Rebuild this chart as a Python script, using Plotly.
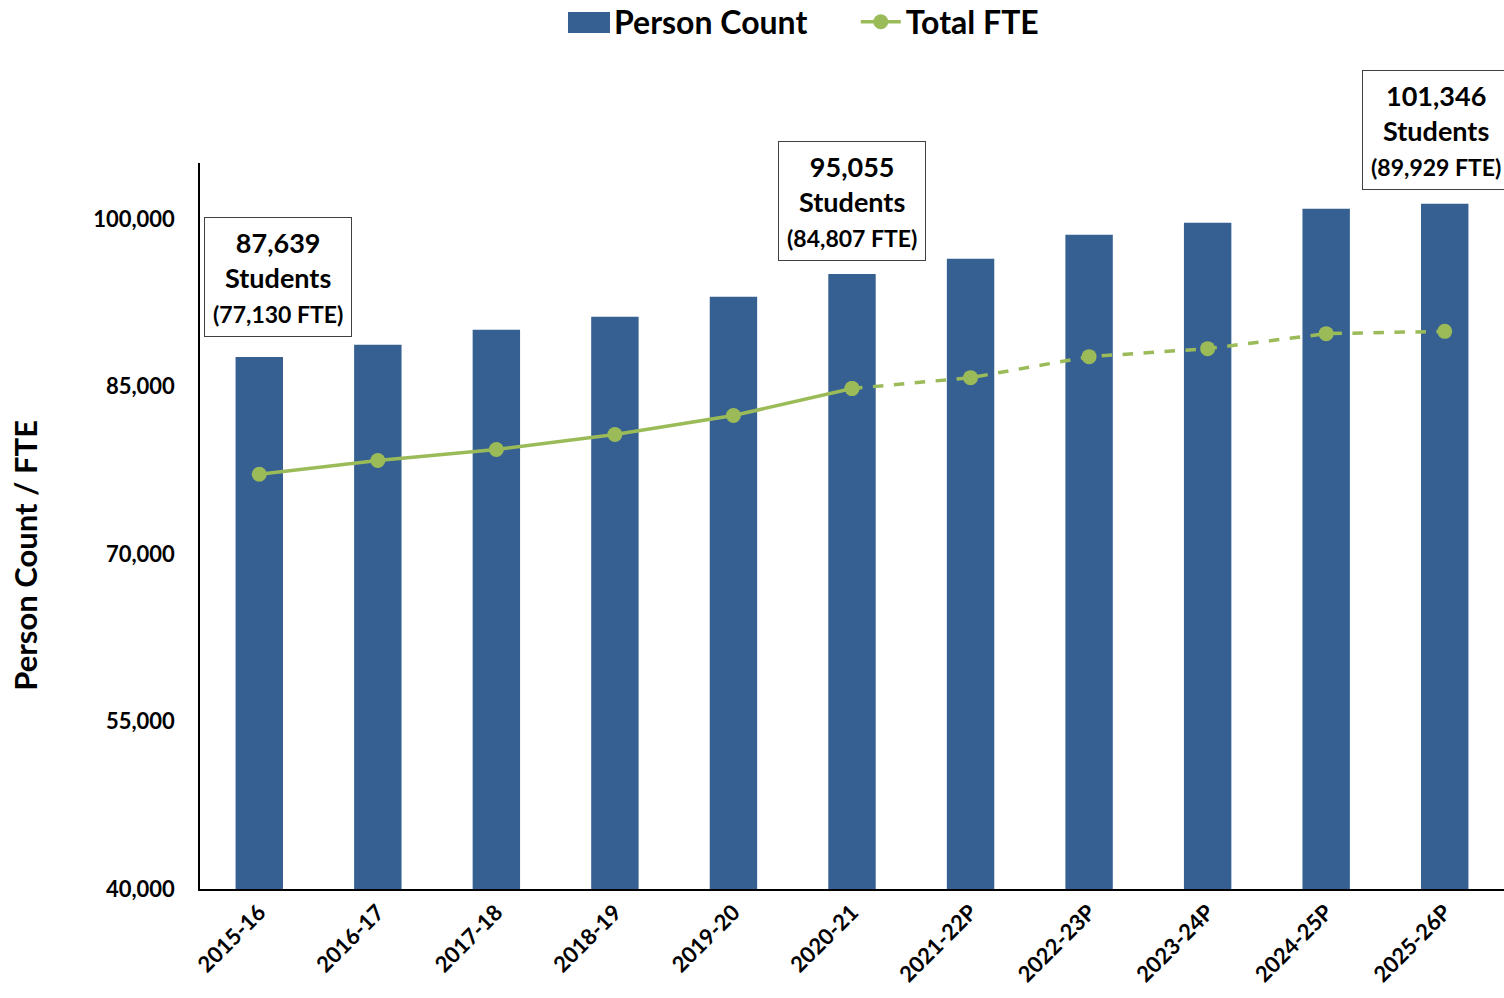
import plotly.graph_objects as go

years = ["2015-16", "2016-17", "2017-18", "2018-19", "2019-20", "2020-21",
         "2021-22P", "2022-23P", "2023-24P", "2024-25P", "2025-26P"]
person_count = [87639, 88730, 90070, 91240, 93030, 95055, 96420, 98570, 99640, 100900, 101346]
total_fte = [77130, 78360, 79350, 80690, 82390, 84807, 85780, 87660, 88380, 89720, 89929]
n_actual = 6  # 2015-16 .. 2020-21 actual, rest projected

callouts = [
    # (category index, count, fte)
    (0, "87,639", "(77,130 FTE)"),
    (5, "95,055", "(84,807 FTE)"),
    (10, "101,346", "(89,929 FTE)"),
]
callout_y = [0.843, 0.947, 1.045]   # paper coords of box centers
callout_dx = [19, 0, -9]

BAR = "#366092"
LINE = "#9BBB59"
FONT = "Lato"

fig = go.Figure()
fig.add_trace(go.Bar(
    x=years, y=person_count, name="Person Count",
    marker=dict(color=BAR, line=dict(width=0)),
    width=0.4, legend="legend",
))
fig.add_trace(go.Scatter(
    x=years[:n_actual], y=total_fte[:n_actual], name="Total FTE",
    mode="lines+markers",
    line=dict(color=LINE, width=3.5),
    marker=dict(color=LINE, size=15), legend="legend2",
))
fig.add_trace(go.Scatter(
    x=years[n_actual - 1:], y=total_fte[n_actual - 1:], name="Total FTE (projected)",
    mode="lines+markers", showlegend=False,
    line=dict(color=LINE, width=3.5, dash="dash"),
    marker=dict(color=LINE, size=15),
))

for (idx, cnt, fte), yp, dx in zip(callouts, callout_y, callout_dx):
    fig.add_annotation(
        x=years[idx], y=yp, xref="x", yref="paper", xshift=dx, yanchor="middle",
        text=(f"<b><span style='font-size:27px'>{cnt}</span><br>"
              f"<span style='font-size:27px'>Students</span><br>"
              f"<span style='font-size:23px'>{fte}</span></b>"),
        showarrow=False, align="center",
        bordercolor="#404040", borderwidth=1, borderpad=8,
        bgcolor="white",
        font=dict(family=FONT, color="black", size=27),
    )

# y-axis title (rotated text, slightly below the plot centre as in the source)
fig.add_annotation(
    x=0, y=0.459, xref="paper", yref="paper", xshift=-175, xanchor="center",
    yanchor="middle",
    text="<b>Person Count / FTE</b>", textangle=-90, showarrow=False,
    font=dict(family=FONT, size=31, color="black"),
)

# wide legend swatch for the bar series (Excel-style legend key)
fig.add_shape(type="rect", xref="paper", yref="paper",
              x0=0.2822, x1=0.3144, y0=1.1791, y1=1.208,
              fillcolor=BAR, line=dict(width=0), layer="above")

legend_font = dict(family=FONT, size=32, color="black", weight="bold")
fig.update_layout(
    width=1504, height=998, autosize=False,
    margin=dict(l=200, r=0, t=163, b=109),
    plot_bgcolor="white", paper_bgcolor="white",
    font=dict(family=FONT, color="black"),
    barmode="overlay",
    showlegend=True,
    legend=dict(orientation="h", xref="container", yref="container",
                x=0.375, xanchor="left", y=0.978, yanchor="middle",
                font=legend_font, itemwidth=40, bgcolor="rgba(0,0,0,0)"),
    legend2=dict(orientation="h", xref="container", yref="container",
                 x=0.569, xanchor="left", y=0.978, yanchor="middle",
                 font=legend_font, itemwidth=40, bgcolor="rgba(0,0,0,0)"),
    xaxis=dict(
        range=[-0.5, len(years) - 0.5],
        showline=True, linecolor="black", linewidth=1.5, automargin=False,
        showgrid=False, tickangle=-45, ticks="",
        tickfont=dict(family=FONT, size=22, color="black", weight="bold"),
    ),
    yaxis=dict(
        range=[40000, 105000], tickvals=[40000, 55000, 70000, 85000, 100000],
        tickformat=",d", showline=True, linecolor="black", linewidth=1.5,
        showgrid=False, zeroline=False, ticks="", ticklabelstandoff=19,
        automargin=False,
        tickfont=dict(family=FONT, size=22, color="black", weight="bold"),
    ),
)

post = ("document.body.style.margin='0';document.body.style.overflow='hidden';"
        "var gd=document.getElementById('{plot_id}');"
        "Plotly.relayout(gd,{width:1504,height:998});")
fig.write_html("out.html", post_script=post, config={"displayModeBar": False})
